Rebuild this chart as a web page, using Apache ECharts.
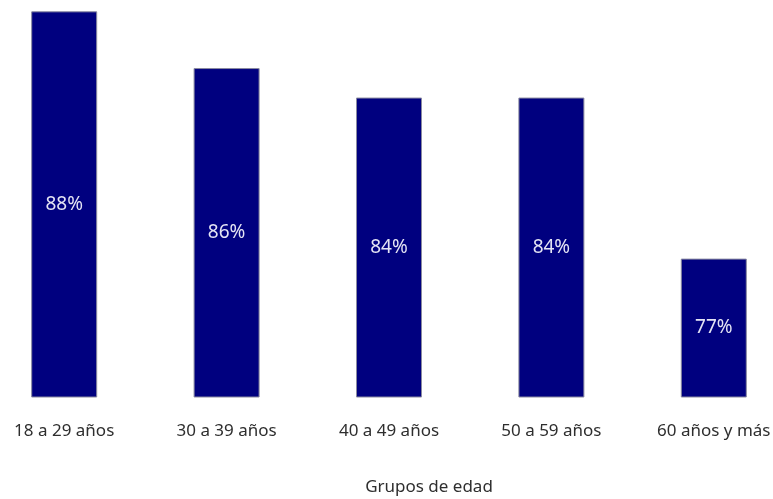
<!DOCTYPE html>
<html>
<head>
<meta charset="utf-8">
<script src="https://cdn.jsdelivr.net/npm/echarts@6/dist/echarts.min.js"></script>
<style>html,body{margin:0;padding:0;background:#fff;overflow:hidden;width:773px;height:499px}#c{width:812px;height:499px;margin-left:-17px}</style>
</head>
<body>
<div id="c"></div>
<script>
const categories = ["18 a 29 años", "30 a 39 años", "40 a 49 años", "50 a 59 años", "60 años y más"];
const values = [88, 85.5, 84.2, 84.2, 77.1];
const axisTitle = "Grupos de edad";

const chart = echarts.init(document.getElementById('c'));
chart.setOption({
  animation: false,
  title: {
    text: axisTitle,
    left: 446, top: 477, textAlign: 'center', padding: 0,
    textStyle: { fontFamily: 'Noto Sans', fontSize: 17, fontWeight: 'normal', color: '#2e2e2e', lineHeight: 20 }
  },
  grid: { left: 0, right: 0, top: 0, bottom: 102, containLabel: false },
  xAxis: {
    type: 'category', data: categories,
    axisLine: { show: false }, axisTick: { show: false },
    axisLabel: { fontFamily: 'Noto Sans', fontSize: 17, color: '#2e2e2e', margin: 26 }
  },
  yAxis: { type: 'value', min: 71, max: 88.5, show: false, splitLine: { show: false } },
  series: [{
    type: 'bar', data: values, barWidth: 66,
    itemStyle: { color: '#00007f', borderColor: '#8a8aa0', borderWidth: 1 },
    label: {
      show: true, position: 'inside',
      formatter: p => Math.round(p.value) + '%',
      fontFamily: 'Noto Sans', fontSize: 19, color: '#e4e4f4'
    }
  }]
});
</script>
</body>
</html>
